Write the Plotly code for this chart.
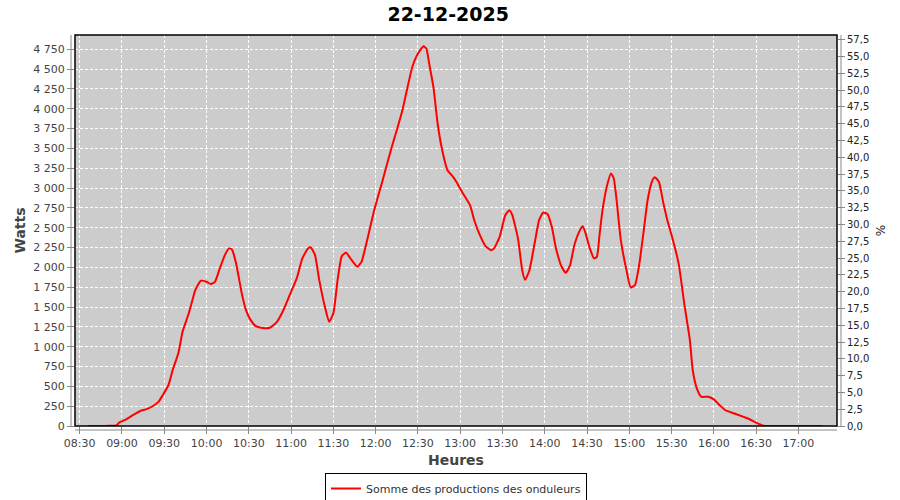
import plotly.graph_objects as go

DAY = "2025-12-22 "

times = [
    "08:36", "08:44", "08:51", "08:56", "08:58", "09:03", "09:08", "09:13", "09:17", "09:22",
    "09:26", "09:29", "09:33", "09:36", "09:40", "09:43", "09:47", "09:50", "09:52", "09:56",
    "10:00", "10:03", "10:06", "10:09", "10:13", "10:16", "10:18", "10:21", "10:25", "10:28",
    "10:31", "10:35", "10:40", "10:45", "10:50", "10:54", "10:59", "11:04", "11:08", "11:12",
    "11:14", "11:17", "11:20", "11:24", "11:27", "11:30", "11:33", "11:36", "11:39", "11:43",
    "11:47", "11:50", "11:53", "11:59", "12:05", "12:11", "12:15", "12:19", "12:26", "12:30",
    "12:34", "12:36", "12:38", "12:41", "12:44", "12:47", "12:51", "12:55", "12:58", "13:02",
    "13:07", "13:10", "13:14", "13:18", "13:22", "13:24", "13:28", "13:32", "13:35", "13:37",
    "13:41", "13:44", "13:46", "13:49", "13:53", "13:56", "13:59", "14:02", "14:05", "14:08",
    "14:12", "14:15", "14:18", "14:21", "14:25", "14:27", "14:29", "14:32", "14:35", "14:37",
    "14:39", "14:41", "14:44", "14:47", "14:49", "14:51", "14:54", "14:58", "15:01", "15:04",
    "15:07", "15:10", "15:13", "15:16", "15:18", "15:21", "15:24", "15:27", "15:31", "15:35",
    "15:39", "15:43", "15:45", "15:48", "15:51", "15:56", "16:00", "16:04", "16:08", "16:14",
    "16:18", "16:25", "16:30", "16:35", "16:40", "17:17",
]

watts = [
    0, 0, 3, 8, 42, 84, 139, 189, 210, 252,
    307, 391, 517, 706, 916, 1189, 1399, 1588, 1713, 1831,
    1818, 1789, 1818, 1965, 2154, 2239, 2226, 2050, 1672, 1461,
    1344, 1260, 1235, 1239, 1314, 1440, 1650, 1861, 2113, 2239,
    2251, 2154, 1840, 1503, 1314, 1420, 1840, 2142, 2184, 2091,
    2008, 2071, 2270, 2721, 3099, 3490, 3729, 3981, 4527, 4696,
    4788, 4759, 4570, 4275, 3814, 3499, 3225, 3141, 3058, 2932,
    2784, 2595, 2406, 2268, 2217, 2239, 2385, 2658, 2721, 2658,
    2365, 1965, 1844, 1955, 2320, 2595, 2692, 2671, 2511, 2239,
    2008, 1932, 2029, 2280, 2470, 2520, 2428, 2239, 2113, 2133,
    2428, 2721, 3015, 3184, 3121, 2847, 2343, 1965, 1747, 1776,
    2030, 2428, 2847, 3078, 3137, 3080, 2826, 2595, 2343, 2050,
    1546, 1083, 706, 470, 369, 369, 336, 265, 202, 160,
    135, 88, 42, 4, 0, 0,
]

series_name = "Somme des productions des onduleurs"
title_text = "22-12-2025"
x_title = "Heures"
y_title = "Watts"
y2_title = "%"

x = [DAY + t for t in times]

FONT = "DejaVu Sans"
GRAY = "#444444"

fig = go.Figure()
fig.add_trace(go.Scatter(
    x=x, y=watts, mode="lines", name=series_name,
    line=dict(color="#ff0000", width=2, shape="spline", smoothing=0.5),
))
fig.add_trace(go.Scatter(
    x=[x[0]], y=[None], yaxis="y2", mode="lines", showlegend=False,
    hoverinfo="skip",
))

fig.update_layout(
    width=900, height=500,
    margin=dict(l=75, r=63, t=35, b=74, autoexpand=False),
    paper_bgcolor="white",
    plot_bgcolor="#cccccc",
    separators=", ",
    font=dict(family=FONT, size=11, color=GRAY),
    title=dict(text="<b>" + title_text + "</b>", x=0.498, xanchor="center",
               y=0.972, yanchor="middle",
               font=dict(family=FONT, size=19, color="black")),
    showlegend=True,
    legend=dict(
        orientation="h", x=0.5, xanchor="center",
        yref="container", y=0.054, yanchor="top",
        bgcolor="white", bordercolor="black", borderwidth=1,
        font=dict(family=FONT, size=11, color="#333333"),
        itemwidth=30,
    ),
    xaxis=dict(
        type="date", automargin=False,
        range=[DAY + "08:26:40", DAY + "17:27:24"],
        tick0=DAY + "08:30", dtick=1800000, tickformat="%H:%M",
        showgrid=True, gridcolor="white", gridwidth=1, griddash="3px,2px",
        ticks="outside", ticklen=7, tickcolor="#888888",
        showline=False, zeroline=False,
        tickfont=dict(family=FONT, size=11, color=GRAY),
        title=dict(text="<b>" + x_title + "</b>", standoff=5,
                   font=dict(family=FONT, size=14, color=GRAY)),
    ),
    yaxis=dict(
        automargin=False,
        range=[0, 4930], tick0=0, dtick=250, tickformat=",d",
        showgrid=True, gridcolor="white", gridwidth=1, griddash="3px,2px",
        ticks="outside", ticklen=7, tickcolor="#888888",
        showline=False, zeroline=False,
        tickfont=dict(family=FONT, size=11, color=GRAY),
        title=dict(text="<b>" + y_title + "</b>", standoff=4,
                   font=dict(family=FONT, size=14, color=GRAY)),
    ),
    yaxis2=dict(
        automargin=False,
        overlaying="y", side="right",
        range=[0, 58.2], tick0=0, dtick=2.5, tickformat=".1f",
        showgrid=False, zeroline=False, showline=False,
        ticks="outside", ticklen=7, tickcolor="#888888",
        tickfont=dict(family=FONT, size=10, color="#222222"),
        title=dict(text=y2_title, standoff=8,
                   font=dict(family=FONT, size=12, color="#222222")),
    ),
)

# plot border and offset axis lines
fig.add_shape(type="rect", xref="paper", yref="paper", x0=0, y0=0, x1=1, y1=1,
              line=dict(color="black", width=1.5), layer="above")
px_w = 900 - 75 - 63
px_h = 500 - 35 - 74
fig.add_shape(type="line", xref="paper", yref="paper",
              x0=-4 / px_w, x1=-4 / px_w, y0=0, y1=1,
              line=dict(color="#888888", width=1))
fig.add_shape(type="line", xref="paper", yref="paper",
              x0=1 + 4 / px_w, x1=1 + 4 / px_w, y0=0, y1=1,
              line=dict(color="#888888", width=1))
fig.add_shape(type="line", xref="paper", yref="paper",
              x0=0, x1=1, y0=-4 / px_h, y1=-4 / px_h,
              line=dict(color="#888888", width=1))

fig.write_html("out.html", config={"displayModeBar": False},
               post_script="document.body.style.margin='0';")
